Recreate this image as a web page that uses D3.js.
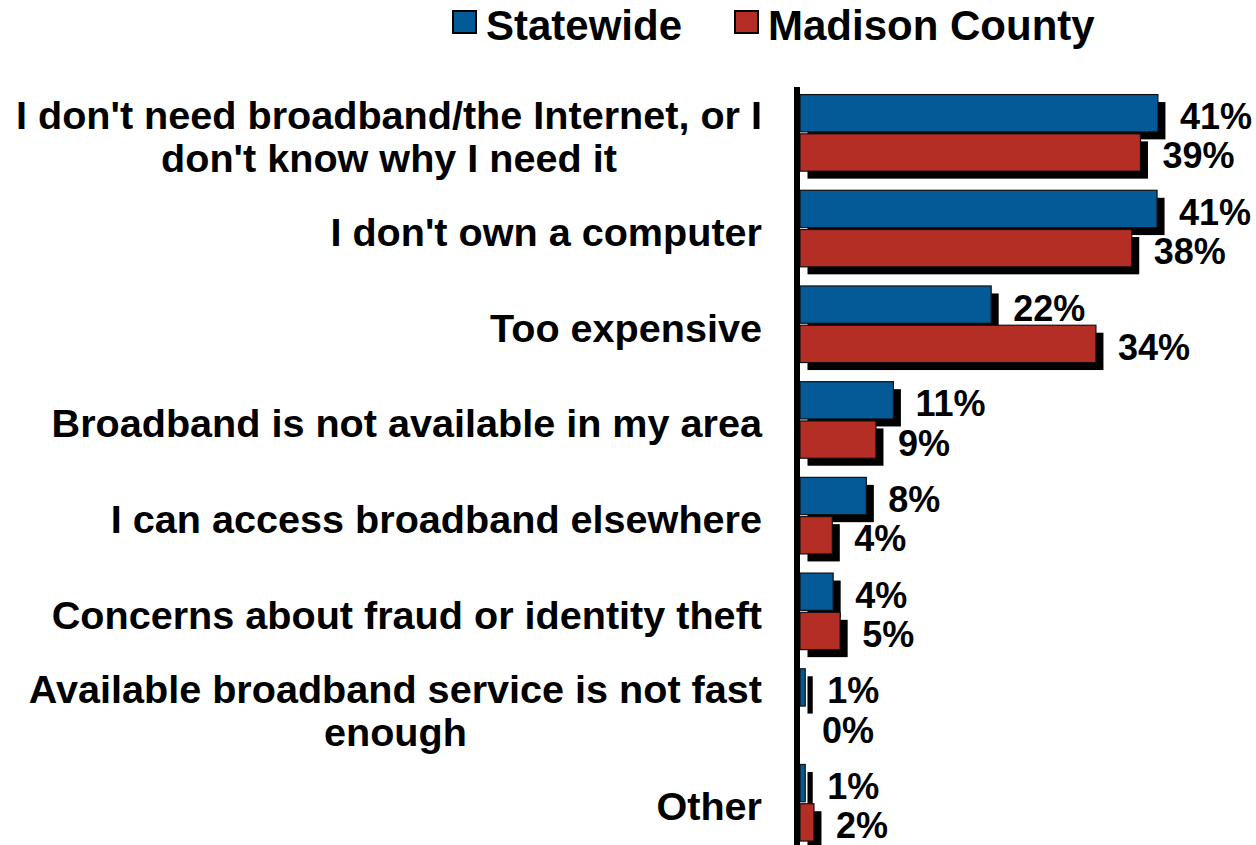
<!DOCTYPE html>
<meta charset="utf-8">
<script src="https://d3js.org/d3.v7.min.js"></script>
<style>
    body { margin: 0; background: #fff; }
    text { font-family: "Liberation Sans", Arial, sans-serif; font-weight: bold; fill: #000; }
</style>
<div id="chart"></div>
<script>
    // data
    const categories = [
        "I don't need broadband/the Internet, or I don't know why I need it",
        "I don't own a computer",
        "Too expensive",
        "Broadband is not available in my area",
        "I can access broadband elsewhere",
        "Concerns about fraud or identity theft",
        "Available broadband service is not fast enough",
        "Other"
    ];
    const seriesNames = ["Statewide", "Madison County"];
    const statewide = [41.0, 40.9, 21.9, 10.7, 7.6, 3.8, 0.6, 0.6];
    const madison = [39.0, 38.0, 33.9, 8.7, 3.7, 4.6, 0, 1.6];
    const colors = ["#035a97", "#b52e26"];

    const width = 1256, height = 845;

    const svg = d3.select("#chart").append("svg")
        .attr("width", width)
        .attr("height", height);

    let rows = categories.map(function (c, i) {
        return {name: c, values: [statewide[i], madison[i]]};
    });

    let x = d3.scaleLinear()
        .domain([0, 50])
        .range([800, 800 + 436.5]);

    let y = d3.scaleBand()
        .domain(categories)
        .range([85, 850.6])
        .paddingInner(0.2)
        .paddingOuter(0.1);

    let y1 = d3.scaleBand()
        .domain([0, 1])
        .range([0, y.bandwidth()])
        .paddingInner(0.05);

    let shadow = 7.5;

    let groups = svg.selectAll("g.row")
        .data(rows)
        .enter()
        .append("g")
        .attr("class", "row")
        .attr("transform", function (d) { return "translate(0," + y(d.name) + ")"; });

    // shadows first, then bars on top
    groups.each(function (d) {
        let g = d3.select(this);
        d.values.forEach(function (v, j) {
            if (v <= 0) return;
            g.append("rect")
                .attr("x", x(0) + shadow)
                .attr("y", y1(j) + shadow)
                .attr("width", x(v) - x(0))
                .attr("height", y1.bandwidth())
                .attr("fill", "#000");
        });
    });

    groups.each(function (d) {
        let g = d3.select(this);
        d.values.forEach(function (v, j) {
            if (v <= 0) return;
            g.append("rect")
                .attr("x", x(0))
                .attr("y", y1(j))
                .attr("width", x(v) - x(0))
                .attr("height", y1.bandwidth())
                .attr("fill", colors[j])
                .attr("stroke", "#111")
                .attr("stroke-width", 1.2);
        });
    });

    // value labels
    groups.each(function (d) {
        let g = d3.select(this);
        d.values.forEach(function (v, j) {
            g.append("text")
                .attr("x", x(v) + 22)
                .attr("y", y1(j) + y1.bandwidth() / 2 + (j === 0 ? 3 : 3))
                .attr("dy", "0.36em")
                .style("font-size", "36px")
                .text(Math.round(v) + "%");
        });
    });

    // axis line
    svg.append("line")
        .attr("x1", 797)
        .attr("x2", 797)
        .attr("y1", 87)
        .attr("y2", height)
        .attr("stroke", "#000")
        .attr("stroke-width", 6);

    // category labels, wrapped, lines centred inside a right-aligned block
    let maxWidth = 770;
    let labelRight = 762;
    groups.each(function (d) {
        let g = d3.select(this);
        let t = g.append("text")
            .attr("text-anchor", "middle")
            .style("font-size", "39.6px");
        let words = d.name.split(" ");
        let lines = [];
        let line = [];
        let probe = t.append("tspan");
        let widest = 0;
        words.forEach(function (w) {
            line.push(w);
            probe.text(line.join(" "));
            if (probe.node().getComputedTextLength() > maxWidth && line.length > 1) {
                line.pop();
                lines.push(line.join(" "));
                line = [w];
            }
        });
        lines.push(line.join(" "));
        lines.forEach(function (l) {
            probe.text(l);
            widest = Math.max(widest, probe.node().getComputedTextLength());
        });
        probe.remove();
        let cx = labelRight - widest / 2;
        let lh = 43;
        let c = y.bandwidth() / 2 + 3;
        lines.forEach(function (l, k) {
            t.append("tspan")
                .attr("x", cx)
                .attr("y", c + (k - (lines.length - 1) / 2) * lh)
                .attr("dy", "0.36em")
                .text(l);
        });
    });

    // legend
    let legendX = [453, 735];
    seriesNames.forEach(function (s, j) {
        svg.append("rect")
            .attr("x", legendX[j])
            .attr("y", 11)
            .attr("width", 23)
            .attr("height", 22)
            .attr("fill", colors[j])
            .attr("stroke", "#000")
            .attr("stroke-width", 2);
        svg.append("text")
            .attr("x", legendX[j] + 33)
            .attr("y", 40)
            .style("font-size", "42px")
            .text(s);
    });
</script>
